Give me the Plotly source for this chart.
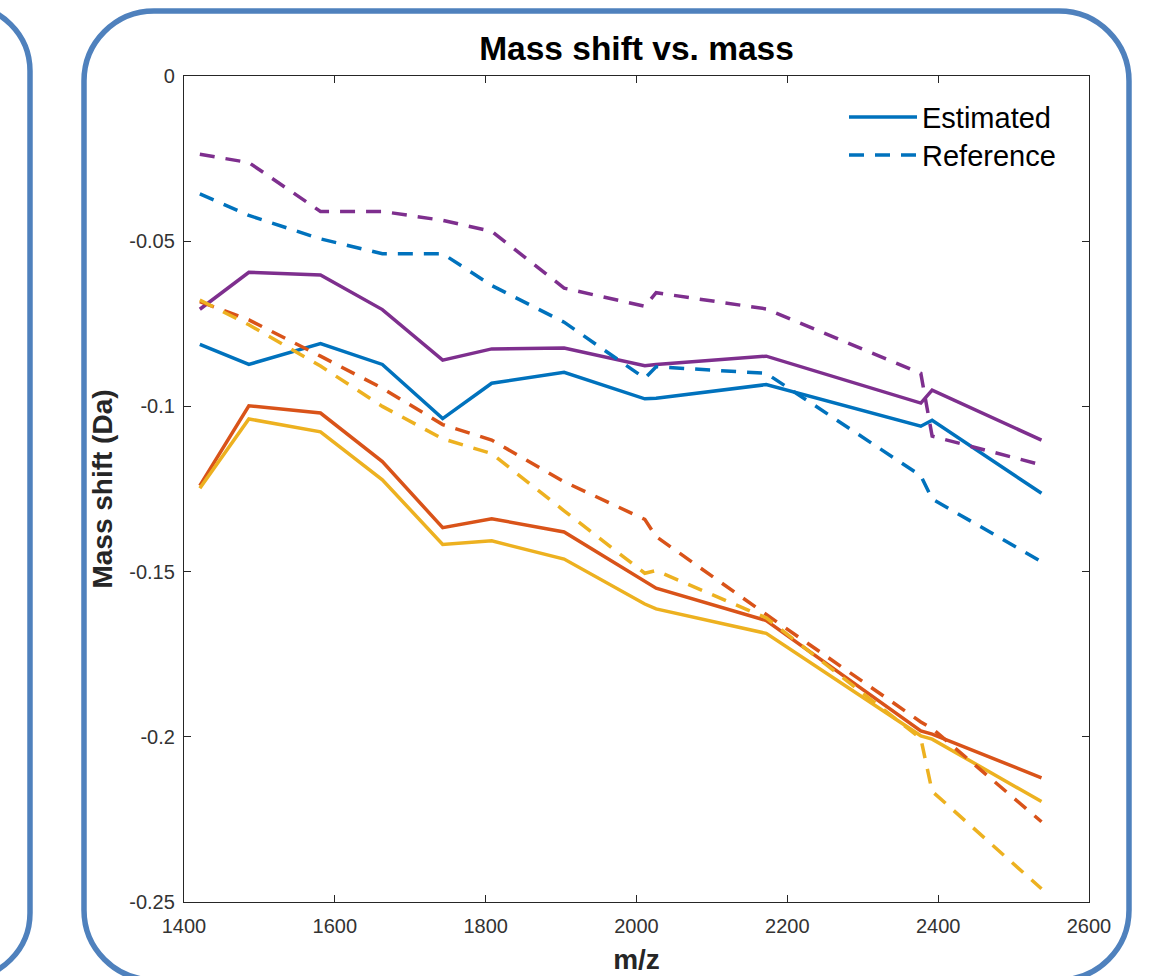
import plotly.graph_objects as go

# ---------------- data ----------------
mz = [1421, 1486, 1581, 1663, 1743, 1808, 1904, 2011, 2026, 2172, 2377, 2392, 2537]

est_blue   = [-0.0812, -0.0873, -0.0810, -0.0873, -0.1037, -0.0930, -0.0897, -0.0977, -0.0975, -0.0934, -0.1060, -0.1042, -0.1263]
est_red    = [-0.1240, -0.0998, -0.1020, -0.1167, -0.1367, -0.1340, -0.1380, -0.1530, -0.1550, -0.1648, -0.1982, -0.1992, -0.2124]
est_yellow = [-0.1248, -0.1038, -0.1077, -0.1222, -0.1418, -0.1407, -0.1462, -0.1598, -0.1613, -0.1687, -0.1997, -0.2007, -0.2196]
est_purple = [-0.0706, -0.0594, -0.0602, -0.0707, -0.0860, -0.0826, -0.0823, -0.0877, -0.0873, -0.0848, -0.0990, -0.0951, -0.1102]

ref_blue   = [-0.0357, -0.0422, -0.0493, -0.0538, -0.0538, -0.0634, -0.0745, -0.0915, -0.0880, -0.0900, -0.1210, -0.1280, -0.1470]
ref_red    = [-0.0683, -0.0738, -0.0848, -0.0945, -0.1055, -0.1102, -0.1228, -0.1342, -0.1394, -0.1630, -0.1955, -0.1975, -0.2257]
ref_yellow = [-0.0678, -0.0753, -0.0878, -0.1000, -0.1098, -0.1143, -0.1316, -0.1505, -0.1497, -0.1640, -0.2005, -0.2165, -0.2460]
ref_purple = [-0.0237, -0.0262, -0.0410, -0.0410, -0.0437, -0.0470, -0.0642, -0.0697, -0.0656, -0.0705, -0.0900, -0.1090, -0.1177]

x_tickvals = [1400, 1600, 1800, 2000, 2200, 2400, 2600]
x_ticktext = ["1400", "1600", "1800", "2000", "2200", "2400", "2600"]
y_tickvals = [0, -0.05, -0.1, -0.15, -0.2, -0.25]
y_ticktext = ["0", "-0.05", "-0.1", "-0.15", "-0.2", "-0.25"]

legend_labels = ["Estimated", "Reference"]

# ---------------- style ----------------
BLUE, RED, YELLOW, PURPLE = "#0072BD", "#D95319", "#EDB120", "#7E2F8E"
LW = 3.5
DASH = "15px,11px"
FONT = "Liberation Sans, Arial, Helvetica, sans-serif"
AXC = "#262626"
BOXC = "#4F81BD"

W, H = 1165, 976
L, R, T, B = 184, 1089, 76, 902


def px_x(p):
    return (p - L) / (R - L)


def px_y(p):
    return (B - p) / (B - T)


def rounded_rect(x0, y0, x1, y1, r):
    k = 0.5523 * r

    def P(x, y):
        return f"{px_x(x):.5f},{px_y(y):.5f}"

    pts = [
        f"M {P(x0 + r, y0)}",
        f"L {P(x1 - r, y0)}",
        f"C {P(x1 - r + k, y0)} {P(x1, y0 + r - k)} {P(x1, y0 + r)}",
        f"L {P(x1, y1 - r)}",
        f"C {P(x1, y1 - r + k)} {P(x1 - r + k, y1)} {P(x1 - r, y1)}",
        f"L {P(x0 + r, y1)}",
        f"C {P(x0 + r - k, y1)} {P(x0, y1 - r + k)} {P(x0, y1 - r)}",
        f"L {P(x0, y0 + r)}",
        f"C {P(x0, y0 + r - k)} {P(x0 + r - k, y0)} {P(x0 + r, y0)}",
        "Z",
    ]
    return " ".join(pts)


fig = go.Figure()

series = [
    (est_blue, BLUE, "solid"), (est_red, RED, "solid"),
    (est_yellow, YELLOW, "solid"), (est_purple, PURPLE, "solid"),
    (ref_blue, BLUE, DASH), (ref_red, RED, DASH),
    (ref_yellow, YELLOW, DASH), (ref_purple, PURPLE, DASH),
]
for ys, col, dash in series:
    fig.add_trace(go.Scatter(x=mz, y=ys, mode="lines",
                             line=dict(color=col, width=LW, dash=dash),
                             showlegend=False, hoverinfo="skip"))

shapes = [
    dict(type="path", xref="paper", yref="paper",
         path=rounded_rect(-300, 5, 30, 979, 66),
         line=dict(color=BOXC, width=5.5), layer="above"),
    dict(type="path", xref="paper", yref="paper",
         path=rounded_rect(84, 11, 1129, 980, 70),
         line=dict(color=BOXC, width=5.5), layer="above"),
    # legend samples
    dict(type="line", xref="paper", yref="paper",
         x0=px_x(849), x1=px_x(917), y0=px_y(117), y1=px_y(117),
         line=dict(color=BLUE, width=LW)),
    dict(type="line", xref="paper", yref="paper",
         x0=px_x(849), x1=px_x(917), y0=px_y(155), y1=px_y(155),
         line=dict(color=BLUE, width=LW, dash=DASH)),
]

annotations = [
    dict(text=legend_labels[0], xref="paper", yref="paper",
         x=px_x(920), y=px_y(118), xanchor="left", yanchor="middle",
         showarrow=False, font=dict(family=FONT, size=29, color="#000000")),
    dict(text=legend_labels[1], xref="paper", yref="paper",
         x=px_x(920), y=px_y(156), xanchor="left", yanchor="middle",
         showarrow=False, font=dict(family=FONT, size=29, color="#000000")),
]

fig.update_layout(
    width=W, height=H,
    margin=dict(l=L, r=W - R, t=T, b=H - B, autoexpand=False),
    paper_bgcolor="white", plot_bgcolor="white",
    font=dict(family=FONT, color=AXC),
    title=dict(text="Mass shift vs. mass", x=0.5, xref="paper", xanchor="center",
               y=1 - 48 / H, yref="container", yanchor="middle",
               font=dict(family=FONT, size=33.5, color="#000000", weight="bold")),
    shapes=shapes,
    annotations=annotations,
    showlegend=False,
)

fig.update_xaxes(
    range=[1400, 2600], tickmode="array", tickvals=x_tickvals, ticktext=x_ticktext,
    ticks="inside", ticklen=7, tickwidth=1.3, tickcolor=AXC,
    showline=True, linecolor=AXC, linewidth=1.3, mirror="ticks",
    showgrid=False, zeroline=False, automargin=False,
    tickfont=dict(family=FONT, size=20, color="#333333"),
    ticklabelstandoff=6,
    title=dict(text="m/z", standoff=13,
               font=dict(family=FONT, size=28, color=AXC, weight="bold")),
)
fig.update_yaxes(
    range=[-0.25, 0], tickmode="array", tickvals=y_tickvals, ticktext=y_ticktext,
    ticks="inside", ticklen=7, tickwidth=1.3, tickcolor=AXC,
    showline=True, linecolor=AXC, linewidth=1.3, mirror="ticks",
    showgrid=False, zeroline=False, automargin=False,
    tickfont=dict(family=FONT, size=20, color="#333333"),
    ticklabelstandoff=4,
    title=dict(text="Mass shift (Da)", standoff=8,
               font=dict(family=FONT, size=28, color=AXC, weight="bold")),
)

fig.write_html("out.html")
